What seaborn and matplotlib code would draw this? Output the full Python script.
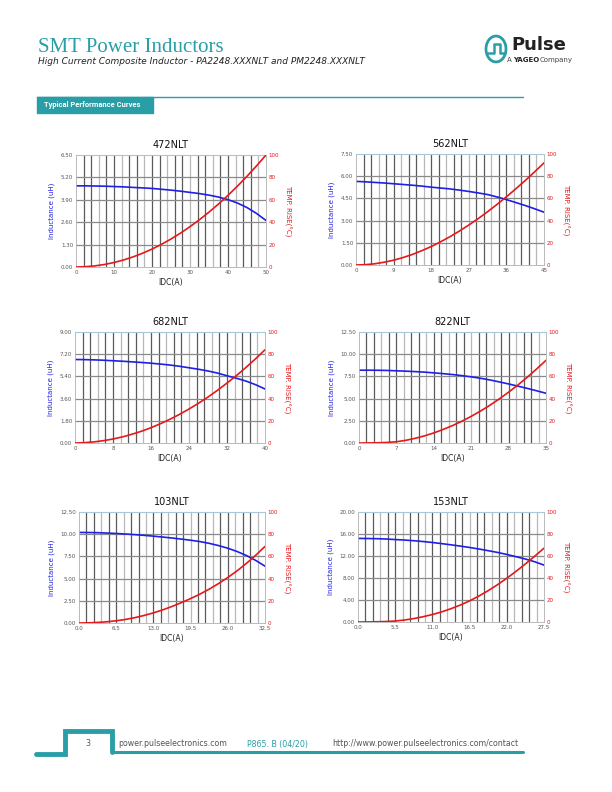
import numpy as np
import pandas as pd
import seaborn as sns
import matplotlib.pyplot as plt
from matplotlib.patches import Rectangle

# ---- data ----
parts = ['472NLT', '562NLT', '682NLT', '822NLT', '103NLT', '153NLT']
x_max = [50, 45, 40, 35, 32.5, 27.5]
l_max = [6.5, 7.5, 9.0, 12.5, 12.5, 20.0]

# values read every 5 % of the full-scale current
frac = [k / 20 for k in range(21)]

ind_472 = [4.71, 4.71, 4.70, 4.69, 4.67, 4.65, 4.62, 4.59, 4.56, 4.51, 4.46,
           4.40, 4.33, 4.26, 4.17, 4.06, 3.91, 3.71, 3.45, 3.11, 2.70]
ind_562 = [5.65, 5.62, 5.58, 5.54, 5.49, 5.44, 5.39, 5.33, 5.26, 5.20, 5.14,
           5.06, 4.97, 4.87, 4.76, 4.60, 4.42, 4.22, 4.02, 3.80, 3.57]
ind_682 = [6.77, 6.76, 6.74, 6.71, 6.67, 6.63, 6.58, 6.53, 6.47, 6.40, 6.32,
           6.22, 6.10, 5.98, 5.84, 5.67, 5.45, 5.25, 5.02, 4.73, 4.38]
ind_822 = [8.20, 8.20, 8.19, 8.17, 8.13, 8.09, 8.04, 7.98, 7.90, 7.81, 7.71,
           7.59, 7.45, 7.29, 7.10, 6.88, 6.65, 6.40, 6.15, 5.88, 5.60]
ind_103 = [10.20, 10.19, 10.17, 10.13, 10.08, 10.02, 9.95, 9.87, 9.78, 9.68, 9.57,
           9.45, 9.32, 9.17, 8.97, 8.72, 8.42, 8.05, 7.60, 7.05, 6.40]
ind_153 = [15.20, 15.18, 15.15, 15.09, 14.99, 14.90, 14.78, 14.63, 14.46, 14.25, 14.03,
           13.80, 13.55, 13.27, 12.97, 12.65, 12.28, 11.87, 11.45, 10.95, 10.35]

tmp_472 = [0, 0.25, 1, 2.25, 4, 6.25, 9, 12.25, 16, 20.25, 25,
           30.25, 36, 42.25, 49, 56.25, 64, 72.25, 81, 90.25, 100]
tmp_562 = [0, 0.3, 1.1, 2.5, 4.3, 6.7, 9.5, 12.9, 16.6, 20.9, 25.5,
           30.6, 36, 41.8, 48, 54.6, 61.4, 68.6, 76.1, 83.9, 92]
tmp_682 = [0, 0.3, 1, 2.1, 3.6, 5.5, 7.9, 10.6, 13.8, 17.4, 21.4,
           25.8, 30.6, 35.8, 41.4, 47.5, 54, 60.8, 68.1, 75.8, 84]
tmp_822 = [0, 0.05, 0.2, 0.5, 1.1, 2.4, 4.2, 6.4, 9.1, 12.2, 15.7,
           19.6, 24, 28.8, 34, 39.7, 45.8, 52.3, 59.3, 66.7, 74.5]
tmp_103 = [0, 0.15, 0.5, 1.1, 2, 3.2, 4.8, 6.8, 9.1, 11.8, 14.9,
           18.3, 22, 26, 30.5, 35.5, 41, 47, 53.7, 61, 69]
tmp_153 = [0, 0.05, 0.2, 0.45, 0.9, 1.8, 3.1, 4.8, 6.8, 9.2, 12.1,
           15.4, 19.2, 23.6, 28.5, 33.9, 39.8, 46.1, 52.8, 59.8, 67.1]

inductance = [ind_472, ind_562, ind_682, ind_822, ind_103, ind_153]
temp_rise = [tmp_472, tmp_562, tmp_682, tmp_822, tmp_103, tmp_153]

TEAL = '#2a9ea6'
BLUE = '#1f1fe6'
RED = '#e5181b'

sns.set_style('white')
plt.rcParams['font.family'] = ['DejaVu Sans']

fig = plt.figure(figsize=(6.12, 7.92), dpi=100)
W, H = 612, 792

def px_axes(l, t, r, b):
    return fig.add_axes([l / W, 1 - b / H, (r - l) / W, (b - t) / H])

def fig_line(xs, ys, **kw):
    fig.lines.append(plt.Line2D([v / W for v in xs], [1 - v / H for v in ys],
                                transform=fig.transFigure, **kw))

# ---- header ----
fig.text(38 / W, 1 - 47 / H, 'SMT Power Inductors', color=TEAL, fontsize=15,
         family='Liberation Serif', va='center')
fig.text(38 / W, 1 - 62 / H,
         'High Current Composite Inductor - PA2248.XXXNLT and PM2248.XXXNLT',
         fontsize=6.5, style='italic', color='#222222', va='center')
fig.text(511 / W, 1 - 45 / H, 'Pulse', fontsize=13, weight='bold', color='#222222',
         va='center')
fig.text(507 / W, 1 - 60 / H, 'A', fontsize=5, color='#444444', va='center')
fig.text(513 / W, 1 - 60 / H, 'YAGEO', fontsize=5, weight='bold', color='#222222',
         va='center')
fig.text(540 / W, 1 - 60 / H, 'Company', fontsize=5, color='#444444', va='center')
fig.patches.append(plt.Circle((496 / W, 1 - 49 / H), 10 / W, transform=fig.transFigure,
                              fill=False, ec=TEAL, lw=2))
fig_line([488, 494, 494, 500, 500, 505], [53, 53, 44, 44, 53, 53], color=TEAL, lw=1.8)

fig_line([37, 523], [97, 97], color=TEAL, lw=1)
fig.patches.append(Rectangle((37 / W, 1 - 113 / H), 116 / W, 16 / H,
                             transform=fig.transFigure, color=TEAL))
fig.text(44 / W, 1 - 105 / H, 'Typical Performance Curves', color='white',
         fontsize=5.4, weight='bold', va='center', family='Roboto')

# ---- charts ----
boxes = [(76, 155, 266, 267), (356, 154, 544, 265),
         (75, 332, 265, 443), (359, 332, 546, 443),
         (79, 512, 265, 623), (358, 512, 544, 622)]

for i, name in enumerate(parts):
    l, t, r, b = boxes[i]
    ax = px_axes(l, t, r, b)
    xm = x_max[i]
    df = pd.DataFrame({'IDC': np.array(frac) * xm,
                       'L': inductance[i], 'T': temp_rise[i]})

    # vertical grid (25 divisions, alternating shades)
    for k in range(1, 25):
        ax.axvline(xm * k / 25, color='#5a5a5a' if k % 3 else '#b8b8b8', lw=0.9,
                   zorder=0)
    for k in range(1, 5):
        ax.axhline(l_max[i] * k / 5, color='#8a8a8a', lw=0.9, zorder=0)

    sns.lineplot(data=df, x='IDC', y='L', ax=ax, color=BLUE, lw=1.2)
    ax.set_xlim(0, xm)
    ax.set_ylim(0, l_max[i])
    xt = np.linspace(0, xm, 6)
    ax.set_xticks(xt)
    if xm in (32.5, 27.5):
        ax.set_xticklabels([f'{v:.1f}' for v in xt])
    else:
        ax.set_xticklabels([f'{v:g}' for v in xt])
    yt = np.linspace(0, l_max[i], 6)
    ax.set_yticks(yt)
    ax.set_yticklabels([f'{v:.2f}' for v in yt])
    ax.tick_params(labelsize=4, colors='#555555', length=0, pad=2)
    ax.set_xlabel('IDC(A)', fontsize=5.5, labelpad=2, color='#222222')
    ax.set_ylabel('Inductance (uH)', fontsize=5, color=BLUE, labelpad=4)
    ax.set_title(name, fontsize=7, pad=5, color='#111111')
    for s in ['left', 'bottom', 'right']:
        ax.spines[s].set_color('#b0b0b0')
        ax.spines[s].set_linewidth(0.6)
    ax.spines['top'].set_color('#a8c8d8')
    ax.spines['top'].set_linewidth(0.8)

    ax2 = ax.twinx()
    sns.lineplot(data=df, x='IDC', y='T', ax=ax2, color=RED, lw=1.2)
    ax2.set_ylim(0, 100)
    ax2.set_yticks([0, 20, 40, 60, 80, 100])
    ax2.tick_params(labelsize=4, colors=RED, length=0, pad=2)
    ax2.set_ylabel('TEMP. RISE(°C)', fontsize=5, color=RED, rotation=270,
                   labelpad=9)
    ax2.set_xlabel('')
    for s in ax2.spines.values():
        s.set_visible(False)

# ---- footer ----
fig_line([36, 65, 65, 112, 112], [754, 754, 731, 731, 752], color=TEAL, lw=3.5,
         solid_joinstyle='miter')
fig_line([112, 523], [752, 752], color=TEAL, lw=2.2)
fig.text(85 / W, 1 - 744 / H, '3', fontsize=5.7, color='#555555', va='center')
fig.text(118 / W, 1 - 744 / H, 'power.pulseelectronics.com', fontsize=5.7,
         color='#555555', va='center')
fig.text(247 / W, 1 - 744 / H, 'P865. B (04/20)', fontsize=5.7, color=TEAL,
         va='center')
fig.text(332 / W, 1 - 744 / H, 'http://www.power.pulseelectronics.com/contact',
         fontsize=5.7, color='#555555', va='center')

fig.savefig('out.png', dpi=100)
